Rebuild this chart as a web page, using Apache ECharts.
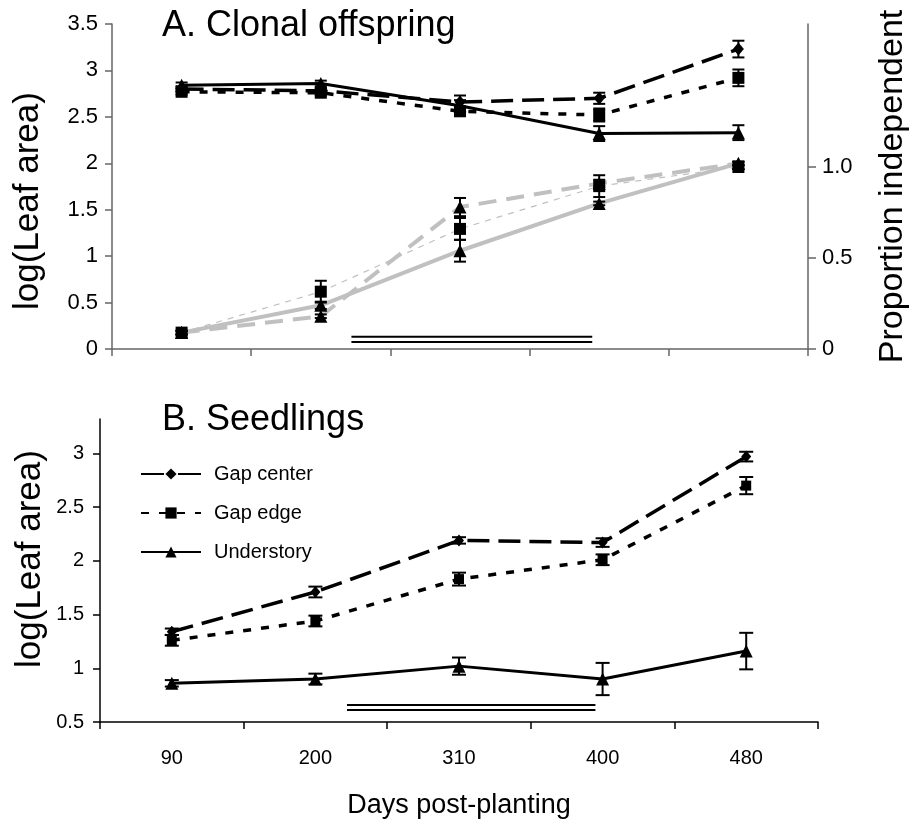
<!DOCTYPE html>
<html>
<head>
<meta charset="utf-8">
<script src="https://cdn.jsdelivr.net/npm/echarts@6/dist/echarts.min.js"></script>
<style>
html,body{margin:0;padding:0;background:#fff;}
#chart{width:913px;height:825px;}
</style>
</head>
<body>
<div id="chart"></div>
<script>
// ---------- data ----------
const days = ['90', '200', '310', '400', '480'];
const seriesNames = ['Gap center', 'Gap edge', 'Understory'];

// Panel A: log(Leaf area) of clonal offspring
const leafA_gapCenter = [2.80, 2.78, 2.66, 2.70, 3.23];
const leafA_gapCenterErr = [0.03, 0.03, 0.07, 0.06, 0.09];
const leafA_gapEdge = [2.77, 2.76, 2.56, 2.52, 2.92];
const leafA_gapEdgeErr = [0.03, 0.03, 0.04, 0.07, 0.09];
const leafA_understory = [2.84, 2.86, 2.62, 2.32, 2.33];
const leafA_understoryErr = [0.03, 0.03, 0.06, 0.08, 0.08];

// Panel A: proportion independent (right axis)
const propA_gapCenter = [0.09, 0.18, 0.78, 0.91, 1.02];
const propA_gapCenterErr = [0.01, 0.01, 0.05, 0.02, 0.01];
const propA_gapEdge = [0.09, 0.315, 0.66, 0.895, 1.00];
const propA_gapEdgeErr = [0.01, 0.06, 0.06, 0.06, 0.01];
const propA_understory = [0.09, 0.24, 0.54, 0.80, 1.02];
const propA_understoryErr = [0.01, 0.02, 0.06, 0.01, 0.01];

// Panel B: log(Leaf area) of seedlings
const leafB_gapCenter = [1.34, 1.71, 2.19, 2.17, 2.97];
const leafB_gapCenterErr = [0.03, 0.05, 0.03, 0.04, 0.045];
const leafB_gapEdge = [1.26, 1.44, 1.83, 2.01, 2.70];
const leafB_gapEdgeErr = [0.05, 0.05, 0.06, 0.05, 0.08];
const leafB_understory = [0.86, 0.90, 1.02, 0.90, 1.16];
const leafB_understoryErr = [0.03, 0.05, 0.08, 0.15, 0.17];

// Period bar (double line), in category-boundary units (0..5)
const periodSpan = [1.72, 3.45];
const periodLevelsA = [0.132, 0.075];
const periodLevelsB = [0.658, 0.612];

// Tick labels
const leftTicksA = [0, 0.5, 1, 1.5, 2, 2.5, 3, 3.5];
const rightTicksA = [0, 0.5, 1];
const leftTicksB = [0.5, 1, 1.5, 2, 2.5, 3];

// ---------- helpers ----------
const FONT = '"Liberation Sans", Arial, sans-serif';
const GREY = '#c0c0c0';
function errData(v, e) { return v.map((val, i) => [i, val - e[i], val + e[i]]); }
function errSeries(v, e, xi, yi, capHalf) {
  return {
    type: 'custom', xAxisIndex: xi, yAxisIndex: yi, z: 5, silent: true,
    data: errData(v, e),
    renderItem: function (params, api) {
      const lo = api.coord([api.value(0), api.value(1)]);
      const hi = api.coord([api.value(0), api.value(2)]);
      const st = { stroke: '#000', lineWidth: 2 };
      return {
        type: 'group', children: [
          { type: 'line', shape: { x1: lo[0], y1: lo[1], x2: hi[0], y2: hi[1] }, style: st },
          { type: 'line', shape: { x1: lo[0] - capHalf, y1: lo[1], x2: lo[0] + capHalf, y2: lo[1] }, style: st },
          { type: 'line', shape: { x1: hi[0] - capHalf, y1: hi[1], x2: hi[0] + capHalf, y2: hi[1] }, style: st }
        ]
      };
    }
  };
}
function lineSeries(name, data, xi, yi, color, width, dash, symbol, size, z) {
  return {
    name: name, type: 'line', xAxisIndex: xi, yAxisIndex: yi, data: data,
    symbol: symbol, symbolSize: size, showSymbol: symbol !== 'none', z: z,
    lineStyle: { color: color, width: width, type: dash },
    itemStyle: { color: '#000', borderWidth: 0 },
    emphasis: { disabled: true }
  };
}
function periodSeries(level, xi, yi) {
  return {
    type: 'line', xAxisIndex: xi, yAxisIndex: yi, symbol: 'none', silent: true, z: 3,
    data: [[periodSpan[0], level], [periodSpan[1], level]],
    lineStyle: { color: '#000', width: 2 }
  };
}
function vText(text, x, y) {
  return {
    type: 'text', x: x, y: y, rotation: Math.PI / 2, silent: true,
    style: { text: text, font: '35px ' + FONT, fill: '#000', align: 'center', verticalAlign: 'middle' }
  };
}

const chart = echarts.init(document.getElementById('chart'), null, { renderer: 'canvas' });

const option = {
  animation: false,
  backgroundColor: '#fff',
  textStyle: { fontFamily: FONT },
  title: [
    { text: 'A. Clonal offspring', left: 162, top: 8, padding: 0, textStyle: { fontFamily: FONT, fontSize: 36, fontWeight: 'normal', color: '#000' } },
    { text: 'B. Seedlings', left: 162, top: 402, padding: 0, textStyle: { fontFamily: FONT, fontSize: 36, fontWeight: 'normal', color: '#000' } }
  ],
  graphic: [
    vText('log(Leaf area)', 28, 201),
    vText('log(Leaf area)', 30, 559)
  ],
  legend: {
    data: [
      { name: seriesNames[0], lineStyle: { type: [23, 14] } },
      { name: seriesNames[1] },
      { name: seriesNames[2] }
    ],
    orient: 'vertical', left: 140, top: 464, padding: 0,
    itemWidth: 60, itemHeight: 14, itemGap: 19,
    textStyle: { fontFamily: FONT, fontSize: 20, color: '#000', padding: [0, 0, 0, 8] },
    selectedMode: false
  },
  grid: [
    { left: 112, top: 24, width: 696, height: 325, containLabel: false, outerBoundsMode: 'none' },
    { left: 100, top: 419, width: 718, height: 303, containLabel: false, outerBoundsMode: 'none' }
  ],
  xAxis: [
    {
      type: 'category', gridIndex: 0, data: days, boundaryGap: true,
      axisLine: { lineStyle: { color: '#666', width: 1.5 } },
      axisTick: { show: true, length: 7, lineStyle: { color: '#666', width: 1.5 } },
      axisLabel: { show: false }
    },
    {
      type: 'category', gridIndex: 1, data: days, boundaryGap: true,
      name: 'Days post-planting', nameLocation: 'middle', nameGap: 70,
      nameTextStyle: { fontFamily: FONT, fontSize: 27, color: '#000' },
      axisLine: { lineStyle: { color: '#000', width: 1.5 } },
      axisTick: { show: true, length: 7, lineStyle: { color: '#000', width: 1.5 } },
      axisLabel: { fontFamily: FONT, fontSize: 20, color: '#000', margin: 26 }
    },
    { type: 'value', gridIndex: 0, min: 0, max: 5, show: false },
    { type: 'value', gridIndex: 1, min: 0, max: 5, show: false }
  ],
  yAxis: [
    {
      type: 'value', gridIndex: 0, min: 0, max: 3.5, interval: 0.5,
      splitLine: { show: false },
      axisLine: { show: true, lineStyle: { color: '#666', width: 1.5 } },
      axisTick: { show: true, length: 7, customValues: leftTicksA, lineStyle: { color: '#666', width: 1.5 } },
      axisLabel: { fontFamily: FONT, fontSize: 22, color: '#000', margin: 14, customValues: leftTicksA }
    },
    {
      type: 'value', gridIndex: 0, position: 'right', min: 0, max: 1.786,
      name: 'Proportion independent', nameLocation: 'middle', nameGap: 68, nameRotate: 90,
      nameTextStyle: { fontFamily: FONT, fontSize: 34, color: '#000' },
      splitLine: { show: false },
      axisLine: { show: true, lineStyle: { color: '#666', width: 1.5 } },
      axisTick: { show: true, length: 8, customValues: rightTicksA, lineStyle: { color: '#666', width: 1.5 } },
      axisLabel: {
        fontFamily: FONT, fontSize: 22, color: '#000', margin: 14, customValues: rightTicksA,
        formatter: v => (v === 0 ? '0' : v.toFixed(1))
      }
    },
    {
      type: 'value', gridIndex: 1, min: 0.5, max: 3.32, interval: 0.5,
      splitLine: { show: false },
      axisLine: { show: true, lineStyle: { color: '#000', width: 1.5 } },
      axisTick: { show: true, length: 7, customValues: leftTicksB, lineStyle: { color: '#000', width: 1.5 } },
      axisLabel: { fontFamily: FONT, fontSize: 20, color: '#000', margin: 16, customValues: leftTicksB }
    }
  ],
  series: [
    // period bars
    periodSeries(periodLevelsA[0], 2, 0),
    periodSeries(periodLevelsA[1], 2, 0),
    periodSeries(periodLevelsB[0], 3, 2),
    periodSeries(periodLevelsB[1], 3, 2),

    // Panel A proportion (grey)
    lineSeries('Prop gap center', propA_gapCenter, 0, 1, GREY, 4, [18, 10], 'triangle', 13, 2),
    lineSeries('Prop gap edge', propA_gapEdge, 0, 1, GREY, 1.2, [6, 6], 'rect', 12, 2),
    lineSeries('Prop understory', propA_understory, 0, 1, GREY, 4, 'solid', 'triangle', 13, 2),
    errSeries(propA_gapCenter, propA_gapCenterErr, 0, 1, 6),
    errSeries(propA_gapEdge, propA_gapEdgeErr, 0, 1, 6),
    errSeries(propA_understory, propA_understoryErr, 0, 1, 6),

    // Panel A leaf area (black)
    lineSeries('A gap center', leafA_gapCenter, 0, 0, '#000', 3.5, [22, 9], 'diamond', [11, 13], 4),
    lineSeries('A gap edge', leafA_gapEdge, 0, 0, '#000', 3.5, [8, 10], 'rect', 12, 4),
    lineSeries('A understory', leafA_understory, 0, 0, '#000', 3, 'solid', 'triangle', 13, 4),
    errSeries(leafA_gapCenter, leafA_gapCenterErr, 0, 0, 6),
    errSeries(leafA_gapEdge, leafA_gapEdgeErr, 0, 0, 6),
    errSeries(leafA_understory, leafA_understoryErr, 0, 0, 6),

    // Panel B leaf area
    lineSeries('Gap center', leafB_gapCenter, 1, 2, '#000', 3.5, [22, 9], 'diamond', [10, 12], 4),
    lineSeries('Gap edge', leafB_gapEdge, 1, 2, '#000', 3.5, [8, 10], 'rect', 10, 4),
    lineSeries('Understory', leafB_understory, 1, 2, '#000', 3, 'solid', 'triangle', 13, 4),
    errSeries(leafB_gapCenter, leafB_gapCenterErr, 1, 2, 7),
    errSeries(leafB_gapEdge, leafB_gapEdgeErr, 1, 2, 7),
    errSeries(leafB_understory, leafB_understoryErr, 1, 2, 7)
  ]
};
chart.setOption(option);
</script>
</body>
</html>
